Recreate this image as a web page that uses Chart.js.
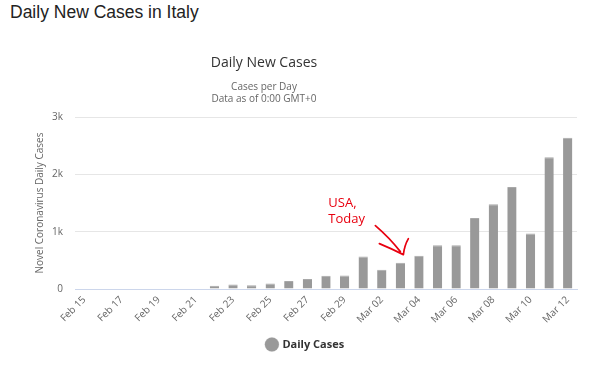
<!DOCTYPE html>
<html>
<head>
<meta charset="utf-8">
<script src="https://cdn.jsdelivr.net/npm/chart.js@4"></script>
<style>
    html, body { margin:0; padding:0; background:#fff; }
    body { width:601px; height:368px; position:relative; overflow:hidden; }
    #pageTitle { position:absolute; left:10px; top:2px; font:17.5px "Liberation Sans", Arial, sans-serif; color:#222; }
    #wrap { position:absolute; left:0; top:0; width:601px; height:368px; }
</style>
</head>
<body>
<div id="pageTitle">Daily New Cases in Italy</div>
<div id="wrap"><canvas id="chart"></canvas></div>
<script>
const days = [
    'Feb 15', 'Feb 16', 'Feb 17', 'Feb 18', 'Feb 19', 'Feb 20', 'Feb 21', 'Feb 22',
    'Feb 23', 'Feb 24', 'Feb 25', 'Feb 26', 'Feb 27', 'Feb 28', 'Feb 29',
    'Mar 01', 'Mar 02', 'Mar 03', 'Mar 04', 'Mar 05', 'Mar 06', 'Mar 07',
    'Mar 08', 'Mar 09', 'Mar 10', 'Mar 11', 'Mar 12'
];
const dailyCases = [
    0, 0, 0, 0, 0, 0, 0, 55,
    80, 65, 95, 140, 175, 230, 235,
    566, 335, 460, 580, 765, 765, 1240,
    1480, 1780, 970, 2300, 2640
];
const yTicks = [0, 1000, 2000, 3000];
const yTickLabels = ['0', '1k', '2k', '3k'];

const chartTitle = 'Daily New Cases';
const chartSubtitle = ['Cases per Day', 'Data as of 0:00 GMT+0'];

// the hand drawn note points at this bar
const noteDay = 'Mar 03';
const noteLines = ['USA,', 'Today'];

const FONT = '"Open Sans", sans-serif';

// titles sit left of the plot centre, like the original widget
const headingPlugin = {
    id:'heading',
    afterDraw(chart) {
        const ctx = chart.ctx;
        ctx.save();
        ctx.textAlign = 'center';
        ctx.textBaseline = 'middle';
        ctx.fillStyle = '#333';
        ctx.font = `14px ${FONT}`;
        ctx.fillText(chartTitle, 264, 63);
        ctx.fillStyle = '#666';
        ctx.font = `10px ${FONT}`;
        chartSubtitle.forEach((line, n) => ctx.fillText(line, 264, 87 + n * 12));
        ctx.restore();
    }
};

const notePlugin = {
    id:'note',
    afterDatasetsDraw(chart) {
        const ctx = chart.ctx;
        const i = days.indexOf(noteDay);
        const tipX = chart.scales.x.getPixelForValue(i) + 3;
        const tipY = chart.scales.y.getPixelForValue(dailyCases[i]) - 8;

        ctx.save();
        ctx.fillStyle = '#e8000f';
        ctx.font = `13px ${FONT}`;
        ctx.textBaseline = 'alphabetic';
        noteLines.forEach((line, n) => ctx.fillText(line, tipX - 75, tipY - 48 + n * 16));

        ctx.strokeStyle = '#e8000f';
        ctx.lineWidth = 1.7;
        ctx.lineCap = 'round';
        ctx.lineJoin = 'round';
        ctx.beginPath();
        ctx.moveTo(tipX - 28, tipY - 29);
        ctx.quadraticCurveTo(tipX - 14, tipY - 17, tipX - 3, tipY - 3);
        ctx.moveTo(tipX - 24, tipY - 11);
        ctx.quadraticCurveTo(tipX - 12, tipY - 6, tipX, tipY);
        ctx.quadraticCurveTo(tipX + 1, tipY - 9, tipX + 5, tipY - 16);
        ctx.stroke();
        ctx.restore();
    }
};

new Chart(document.getElementById('chart'), {
    type:'bar',
    data:{
        labels:days,
        datasets:[{
            label:'Daily Cases',
            data:dailyCases,
            backgroundColor:'#999999',
            borderColor:'#a8a8a8',
            borderWidth:{ top:1, left:0, right:0, bottom:0 },
            categoryPercentage:1,
            barPercentage:0.5
        }]
    },
    options:{
        responsive:true,
        maintainAspectRatio:false,
        animation:false,
        layout:{ padding:{ top:117, left:34, right:24, bottom:8 } },
        plugins:{
            tooltip:{ enabled:false },
            legend:{
                position:'bottom',
                labels:{
                    usePointStyle:true,
                    pointStyle:'circle',
                    boxWidth:10,
                    boxHeight:10,
                    padding:10,
                    color:'#333',
                    font:{ family:FONT, size:11, weight:'bold' }
                }
            }
        },
        scales:{
            x:{
                grid:{ display:false, drawTicks:false },
                border:{ display:true, color:'#ccd6eb', width:1 },
                ticks:{
                    autoSkip:false,
                    minRotation:45,
                    maxRotation:45,
                    padding:5,
                    color:'#666',
                    font:{ family:FONT, size:10 },
                    callback:(value, index) => index % 2 === 0 ? days[index] : ''
                },
                afterFit(scale) { scale.height = 40; }
            },
            y:{
                min:0,
                max:3000,
                afterBuildTicks(scale) { scale.ticks = yTicks.map(v => ({ value:v })); },
                grid:{ color:'#e6e6e6', drawTicks:false },
                border:{ display:false },
                ticks:{
                    padding:12,
                    color:'#666',
                    font:{ family:FONT, size:10 },
                    callback:value => yTickLabels[yTicks.indexOf(value)]
                },
                title:{
                    display:true,
                    text:'Novel Coronavirus Daily Cases',
                    color:'#666',
                    padding:{ top:0, bottom:0 },
                    font:{ family:FONT, size:10 }
                },
                afterFit(scale) { scale.width = 41; }
            }
        }
    },
    plugins:[headingPlugin, notePlugin]
});
</script>
</body>
</html>
